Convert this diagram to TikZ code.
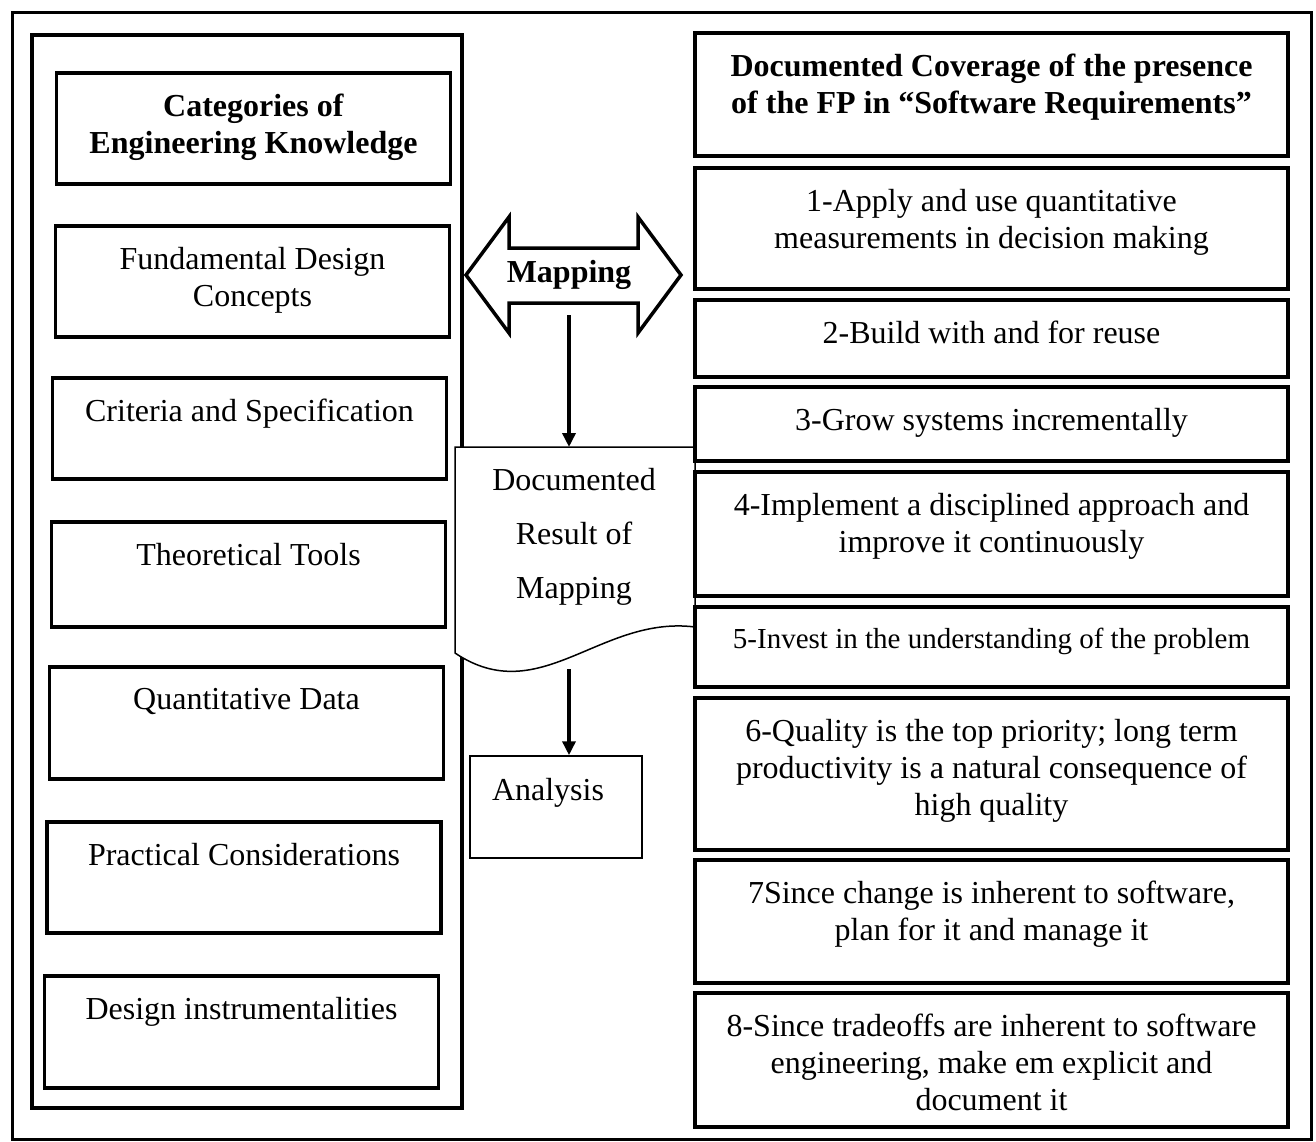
\documentclass[tikz,border=0pt]{standalone}
\usepackage{fontspec}
\setmainfont{Liberation Serif}
\usetikzlibrary{arrows.meta, positioning}

\begin{document}
\begin{tikzpicture}[x=1pt, y=-1pt,
        box/.style={draw, line width=3.5pt, inner sep=0pt},
        txt/.style={anchor=north, inner sep=0pt, yshift=-23pt, align=center,
            font=\fontsize{32}{37}\selectfont},
        flow/.style={line width=3.5pt, -{Triangle[length=14pt, width=13pt]}}]
        \useasboundingbox (0,0) rectangle (1316,1142);
        \node[draw, line width=3pt, minimum width=1299, minimum height=1126] (frame) at (661.5,576) {};
        \node[box, minimum width=430, minimum height=1073] (lpanel) at (247,571.5) {};
        % knowledge categories
        \foreach \t/\x/\y/\h [count=\i] in {
            {\textbf{Categories of}\\\textbf{Engineering Knowledge}}/253.5/128.5/111,
            {Fundamental Design\\Concepts}/252.5/281.5/111,
            {Criteria and Specification}/249.5/428.5/101,
            {Theoretical Tools}/248.5/574.5/105,
            {Quantitative Data}/246.5/723/112,
            {Practical Considerations}/244/877.5/111,
            {Design instrumentalities}/241.5/1032/112} {
            \node[box, minimum width=394, minimum height=\h, label={[txt]north:\t}] (l\i) at (\x,\y) {};
        }
        % documented result
        \draw[line width=1.5pt, fill=white] (455,447) -- (695,447) -- (695,627)
            .. controls (600,615) and (540,710) .. (455,653) -- cycle;
        \node[minimum width=240, minimum height=222, anchor=north] (doc) at (575,447) {};
        \node[anchor=north, inner sep=0pt, align=center, font=\fontsize{32}{54}\selectfont]
            (doctxt) at (574,468) {Documented\\Result of\\Mapping};
        % principles
        \foreach \t/\y/\h [count=\i from 0] in {
            {\textbf{Documented Coverage of the presence}\\\textbf{of the FP in “Software Requirements”}}/94.5/123,
            {1-Apply and use quantitative\\measurements in decision making}/228.5/121,
            {2-Build with and for reuse}/338.5/77,
            {3-Grow systems incrementally}/424/74,
            {4-Implement a disciplined approach and\\improve it continuously}/534/124,
            {\fontsize{29}{35}\selectfont 5-Invest in the understanding of the problem}/647/80,
            {6-Quality is the top priority; long term\\productivity is a natural consequence of\\high quality}/774/152,
            {7Since change is inherent to software,\\plan for it and manage it}/921.5/123,
            {8-Since tradeoffs are inherent to software\\engineering, make em explicit and\\document it}/1060/134} {
            \node[box, minimum width=593, minimum height=\h, label={[txt]north:\t}] (r\i) at (991.5,\y) {};
        }
        % mapping arrow
        \draw[line width=3.5pt, fill=white] (466,275) -- (509,217) -- (509,248) -- (638,248) -- (638,217)
            -- (681,275) -- (638,333) -- (638,303) -- (509,303) -- (509,333) -- cycle;
        \node[font=\fontsize{32}{37}\selectfont\bfseries] (map) at (569,275) {Mapping};
        \coordinate (mapbot) at (569,315);
        \node[draw, line width=1.5pt, minimum width=172, minimum height=102,
            label={[txt, xshift=-8pt]north:Analysis}] (ana) at (556,807) {};
        \draw[flow] (mapbot) -- (mapbot |- doc.north);
        \draw[flow] (mapbot |- doc.south) -- (mapbot |- ana.north);
    \end{tikzpicture}
\end{document}
